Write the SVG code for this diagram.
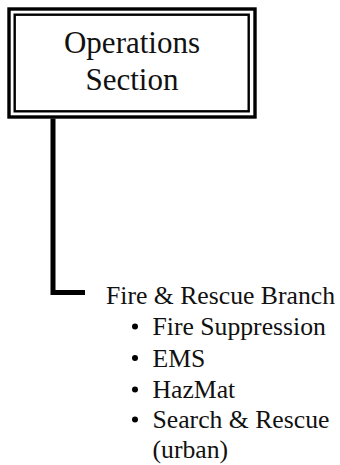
<svg xmlns="http://www.w3.org/2000/svg" width="340" height="465" viewBox="0 0 340 465">
<style>
text{font-family:'Liberation Serif','DejaVu Serif',serif;fill:#111}
.t{font-size:31px;text-anchor:middle}
.b{font-size:25.7px}
.d{fill:#000}
</style>
<rect width="340" height="465" fill="#fff"/>
<g id="operations-section">
<rect x="9" y="9" width="246" height="108" fill="#fff" stroke="#000" stroke-width="3.4"/>
<rect x="14.7" y="14.7" width="234" height="96.6" fill="none" stroke="#000" stroke-width="2.4"/>
<text class="t" x="132" y="53" font-family="Liberation Serif">Operations</text>
<text class="t" x="132" y="90" font-family="Liberation Serif">Section</text>
</g>
<g id="connectors">
<path d="M53 118.5 V292.5 H85" fill="none" stroke="#000" stroke-width="5"/>
</g>
<g id="fire-rescue-branch" font-family="Liberation Serif">
<text class="b" x="106" y="304">Fire &amp; Rescue Branch</text>
<circle class="d" cx="135" cy="326.5" r="3"/>
<text class="b" x="152.5" y="335">Fire Suppression</text>
<circle class="d" cx="135" cy="358" r="3"/>
<text class="b" x="152.5" y="366.5">EMS</text>
<circle class="d" cx="135" cy="389.5" r="3"/>
<text class="b" x="152.5" y="398">HazMat</text>
<circle class="d" cx="135" cy="419.5" r="3"/>
<text class="b" x="152.5" y="428">Search &amp; Rescue</text>
<text class="b" x="152.5" y="458">(urban)</text>
</g>
</svg>
